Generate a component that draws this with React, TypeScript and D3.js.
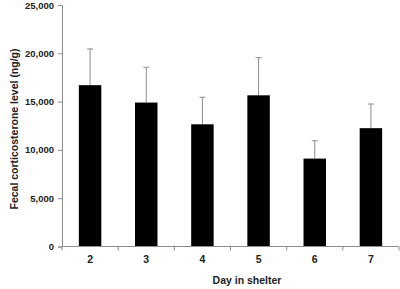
import { useEffect, useRef } from "react"
import * as d3 from "d3"

const days = ["2", "3", "4", "5", "6", "7"]
const means = [16700, 14900, 12650, 15650, 9100, 12250]
const upperErr = [20450, 18550, 15450, 19550, 10950, 14750]
const yTicks = [0, 5000, 10000, 15000, 20000, 25000]

export default function App() {
  const svgRef = useRef<SVGSVGElement>(null)

  useEffect(() => {
    if (!svgRef.current) return
    document.body.style.margin = "0"

    const svg = d3.select(svgRef.current)
    svg.selectAll("*").remove()

    const width = 400
    const height = 289
    const margin = { top: 5, right: 1, bottom: 42.5, left: 62 }
    const font = "Arial, 'Liberation Sans', sans-serif"
    const axisColor = "#8c8c8c"

    const x = d3
      .scaleBand()
      .domain(days)
      .range([margin.left, width - margin.right])
      .paddingInner(0)
      .paddingOuter(0)

    const y = d3
      .scaleLinear()
      .domain([0, 25000])
      .range([height - margin.bottom, margin.top])

    const chart = svg.append("g")

    // error bars (upper only)
    const capW = 3
    const errs = chart.append("g").attr("stroke", axisColor).attr("stroke-width", 1)
    days.forEach((d, i) => {
      const cx = x(d)! + x.bandwidth() / 2
      errs
        .append("line")
        .attr("x1", cx)
        .attr("x2", cx)
        .attr("y1", y(means[i]))
        .attr("y2", y(upperErr[i]))
      errs
        .append("line")
        .attr("x1", cx - capW)
        .attr("x2", cx + capW)
        .attr("y1", y(upperErr[i]))
        .attr("y2", y(upperErr[i]))
    })

    // bars
    const barW = x.bandwidth() * 0.4
    chart
      .selectAll(".bar")
      .data(days)
      .enter()
      .append("rect")
      .attr("class", "bar")
      .attr("x", (d) => x(d)! + (x.bandwidth() - barW) / 2)
      .attr("y", (_, i) => y(means[i]))
      .attr("width", barW)
      .attr("height", (_, i) => y(0) - y(means[i]))
      .attr("fill", "#000")

    // y axis
    const yAxis = d3
      .axisLeft(y)
      .tickValues(yTicks)
      .tickSize(4)
      .tickPadding(4)
      .tickFormat((d) => d3.format(",")(d as number))

    const yG = svg.append("g").attr("transform", `translate(${margin.left}, 0)`).call(yAxis)
    yG.select(".domain").attr("stroke", axisColor)
    yG.selectAll(".tick line").attr("stroke", axisColor)
    yG.selectAll(".tick text")
      .attr("font-family", font)
      .attr("font-weight", "bold")
      .attr("font-size", "9.5px")
      .attr("fill", "#222")

    // x axis: ticks between categories
    const xG = svg.append("g").attr("transform", `translate(0, ${y(0)})`)
    xG.append("line")
      .attr("x1", margin.left)
      .attr("x2", width - margin.right)
      .attr("stroke", axisColor)
    const bounds = days.map((d) => x(d)!).concat([x(days[days.length - 1])! + x.bandwidth()])
    xG.selectAll(".sep")
      .data(bounds)
      .enter()
      .append("line")
      .attr("class", "sep")
      .attr("x1", (d) => d)
      .attr("x2", (d) => d)
      .attr("y1", 0)
      .attr("y2", 4)
      .attr("stroke", axisColor)
    xG.selectAll(".lab")
      .data(days)
      .enter()
      .append("text")
      .attr("class", "lab")
      .attr("x", (d) => x(d)! + x.bandwidth() / 2)
      .attr("y", 16)
      .attr("text-anchor", "middle")
      .attr("font-family", font)
      .attr("font-weight", "bold")
      .attr("font-size", "10.5px")
      .attr("fill", "#222")
      .text((d) => d)

    // axis titles
    svg
      .append("text")
      .attr("x", 247)
      .attr("y", 284)
      .attr("text-anchor", "middle")
      .attr("font-family", font)
      .attr("font-weight", "bold")
      .attr("font-size", "10.5px")
      .attr("fill", "#222")
      .text("Day in shelter")

    svg
      .append("text")
      .attr("transform", `translate(18, 129) rotate(-90)`)
      .attr("text-anchor", "middle")
      .attr("font-family", font)
      .attr("font-weight", "bold")
      .attr("font-size", "10.5px")
      .attr("fill", "#222")
      .text("Fecal corticosterone level (ng/g)")
  }, [])

  return <svg ref={svgRef} width={400} height={289} style={{ display: "block", background: "#fff" }} />
}
